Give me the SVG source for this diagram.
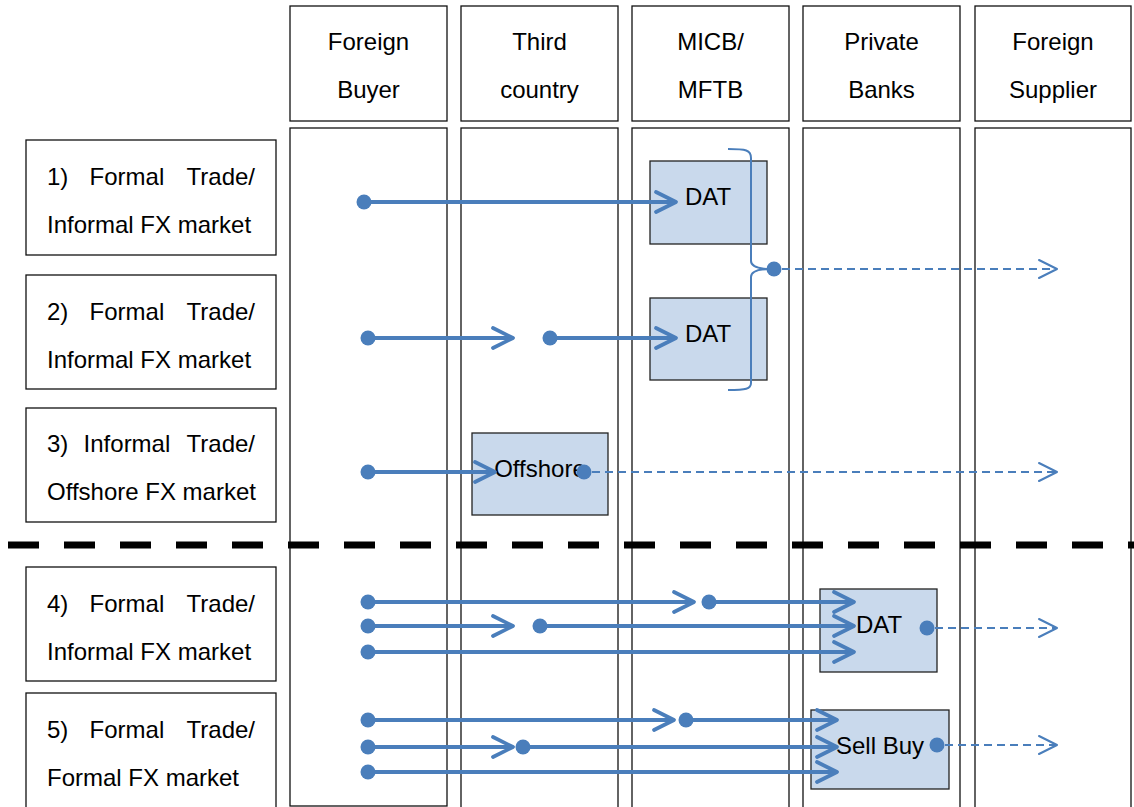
<svg xmlns="http://www.w3.org/2000/svg" width="1134" height="807" viewBox="0 0 1134 807">
  <style>
    .box { fill: #ffffff; stroke: #111111; stroke-width: 1.3; }
    .node { fill: #c9d9ec; stroke: #222222; stroke-width: 1.3; }
    text { font-family: "Liberation Sans", Arial, sans-serif; font-size: 24px; fill: #000000; }
    .c { text-anchor: middle; }
    .e { text-anchor: end; }
    .flow { fill: none; stroke: #4a7ebb; stroke-width: 3.8; marker-end: url(#chev); }
    .dash { fill: none; stroke: #4a7ebb; stroke-width: 2; stroke-dasharray: 8 5; marker-end: url(#chevThin); }
    .dot { fill: #4a7ebb; }
    .sep { stroke: #000000; stroke-width: 7; stroke-dasharray: 31 25; }
  </style>
  <defs>
    <marker id="chev" markerUnits="userSpaceOnUse" viewBox="-22 -12 24 24" refX="0" refY="0" markerWidth="24" markerHeight="24" orient="auto" overflow="visible">
      <path d="M-20,-10 L0,0 L-20,10" fill="none" stroke="#4a7ebb" stroke-width="3.8" stroke-linecap="round" stroke-linejoin="round"/>
    </marker>
    <marker id="chevThin" markerUnits="userSpaceOnUse" viewBox="-20 -11 22 22" refX="0" refY="0" markerWidth="22" markerHeight="22" orient="auto" overflow="visible">
      <path d="M-18,-9 L0,0 L-18,9" fill="none" stroke="#4a7ebb" stroke-width="2" stroke-linecap="round" stroke-linejoin="round"/>
    </marker>
  </defs>

  <rect width="1134" height="807" fill="#ffffff"/>

  <!-- Column headers -->
  <g id="hdr-buyer">
    <rect class="box" x="290" y="6" width="157" height="115"/>
    <text class="c" x="368.5" y="50">Foreign</text>
    <text class="c" x="368.5" y="98">Buyer</text>
  </g>
  <g id="hdr-third">
    <rect class="box" x="461" y="6" width="157" height="115"/>
    <text class="c" x="539.5" y="50">Third</text>
    <text class="c" x="539.5" y="98">country</text>
  </g>
  <g id="hdr-micb">
    <rect class="box" x="632" y="6" width="157" height="115"/>
    <text class="c" x="710.5" y="50">MICB/</text>
    <text class="c" x="710.5" y="98">MFTB</text>
  </g>
  <g id="hdr-banks">
    <rect class="box" x="803" y="6" width="157" height="115"/>
    <text class="c" x="881.5" y="50">Private</text>
    <text class="c" x="881.5" y="98">Banks</text>
  </g>
  <g id="hdr-supplier">
    <rect class="box" x="975" y="6" width="156" height="115"/>
    <text class="c" x="1053" y="50">Foreign</text>
    <text class="c" x="1053" y="98">Supplier</text>
  </g>

  <!-- Swimlane columns -->
  <g id="lanes">
    <rect class="box" x="290" y="128" width="157" height="678"/>
    <rect class="box" x="461" y="128" width="157" height="690"/>
    <rect class="box" x="632" y="128" width="157" height="690"/>
    <rect class="box" x="803" y="128" width="157" height="690"/>
    <rect class="box" x="975" y="128" width="156" height="690"/>
  </g>

  <!-- Row labels -->
  <g id="row1">
    <rect class="box" x="26" y="140" width="250" height="115"/>
    <text x="47" y="184.5">1)</text>
    <text x="89.6" y="184.5">Formal</text>
    <text class="e" x="255" y="184.5">Trade/</text>
    <text x="47" y="232.5">Informal FX market</text>
  </g>
  <g id="row2">
    <rect class="box" x="26" y="275" width="250" height="114"/>
    <text x="47" y="319.5">2)</text>
    <text x="89.6" y="319.5">Formal</text>
    <text class="e" x="255" y="319.5">Trade/</text>
    <text x="47" y="367.5">Informal FX market</text>
  </g>
  <g id="row3">
    <rect class="box" x="26" y="408" width="250" height="114"/>
    <text x="47" y="451.5">3)</text>
    <text x="83.6" y="451.5">Informal</text>
    <text class="e" x="255" y="451.5">Trade/</text>
    <text x="47" y="499.5">Offshore FX market</text>
  </g>
  <g id="row4">
    <rect class="box" x="26" y="567" width="250" height="114"/>
    <text x="47" y="611.5">4)</text>
    <text x="89.6" y="611.5">Formal</text>
    <text class="e" x="255" y="611.5">Trade/</text>
    <text x="47" y="659.5">Informal FX market</text>
  </g>
  <g id="row5">
    <rect class="box" x="26" y="693" width="250" height="120"/>
    <text x="47" y="737.5">5)</text>
    <text x="89.6" y="737.5">Formal</text>
    <text class="e" x="255" y="737.5">Trade/</text>
    <text x="47" y="785.5">Formal FX market</text>
  </g>

  <!-- Separator between offshore and formal channels -->
  <line class="sep" x1="8" y1="545" x2="1134" y2="545"/>

  <!-- Process nodes -->
  <g id="dat1">
    <rect class="node" x="650" y="161" width="117" height="83"/>
    <text class="c" x="708" y="205">DAT</text>
  </g>
  <g id="dat2">
    <rect class="node" x="650" y="298" width="117" height="82"/>
    <text class="c" x="708" y="342">DAT</text>
  </g>
  <g id="offshore">
    <rect class="node" x="472" y="433" width="136" height="82"/>
    <text class="c" x="540" y="477">Offshore</text>
  </g>
  <g id="dat4">
    <rect class="node" x="820" y="589" width="117" height="83"/>
    <text class="c" x="879" y="633">DAT</text>
  </g>
  <g id="sellbuy">
    <rect class="node" x="811" y="710" width="138" height="79"/>
    <text class="c" x="880" y="754">Sell Buy</text>
  </g>

  <!-- Connectors -->
  <g id="connectors">
    <!-- 1) -->
    <circle class="dot" cx="364" cy="202" r="7.5"/>
    <path class="flow" d="M364,202 H676"/>
    <!-- 2) -->
    <circle class="dot" cx="368" cy="338" r="7.5"/>
    <path class="flow" d="M368,338 H513"/>
    <circle class="dot" cx="550" cy="338" r="7.5"/>
    <path class="flow" d="M550,338 H676"/>
    <!-- brace joining both DAT paths -->
    <path d="M728,149 C746,149 751,150 751,158 L751,261 C751,266 758,269 772,269 C758,269 751,272 751,277 L751,383 C751,389 746,390 728,390" fill="none" stroke="#4a7ebb" stroke-width="2"/>
    <circle class="dot" cx="774" cy="269" r="7.5"/>
    <path class="dash" d="M782,269 H1057"/>
    <!-- 3) -->
    <circle class="dot" cx="368" cy="472" r="7.5"/>
    <path class="flow" d="M368,472 H495"/>
    <circle class="dot" cx="584" cy="472" r="7.5"/>
    <path class="dash" d="M592,472 H1057"/>
    <!-- 4) -->
    <circle class="dot" cx="368" cy="602" r="7.5"/>
    <path class="flow" d="M368,602 H694"/>
    <circle class="dot" cx="709" cy="602" r="7.5"/>
    <path class="flow" d="M709,602 H854"/>
    <circle class="dot" cx="368" cy="626" r="7.5"/>
    <path class="flow" d="M368,626 H513"/>
    <circle class="dot" cx="540" cy="626" r="7.5"/>
    <path class="flow" d="M540,626 H854"/>
    <circle class="dot" cx="368" cy="652" r="7.5"/>
    <path class="flow" d="M368,652 H854"/>
    <circle class="dot" cx="927" cy="628" r="7.5"/>
    <path class="dash" d="M935,628 H1057"/>
    <!-- 5) -->
    <circle class="dot" cx="368" cy="720" r="7.5"/>
    <path class="flow" d="M368,720 H674"/>
    <circle class="dot" cx="686" cy="720" r="7.5"/>
    <path class="flow" d="M686,720 H837"/>
    <circle class="dot" cx="368" cy="747" r="7.5"/>
    <path class="flow" d="M368,747 H513"/>
    <circle class="dot" cx="523" cy="747" r="7.5"/>
    <path class="flow" d="M523,747 H837"/>
    <circle class="dot" cx="368" cy="772" r="7.5"/>
    <path class="flow" d="M368,772 H837"/>
    <circle class="dot" cx="937" cy="745" r="7.5"/>
    <path class="dash" d="M945,745 H1057"/>
  </g>
</svg>
